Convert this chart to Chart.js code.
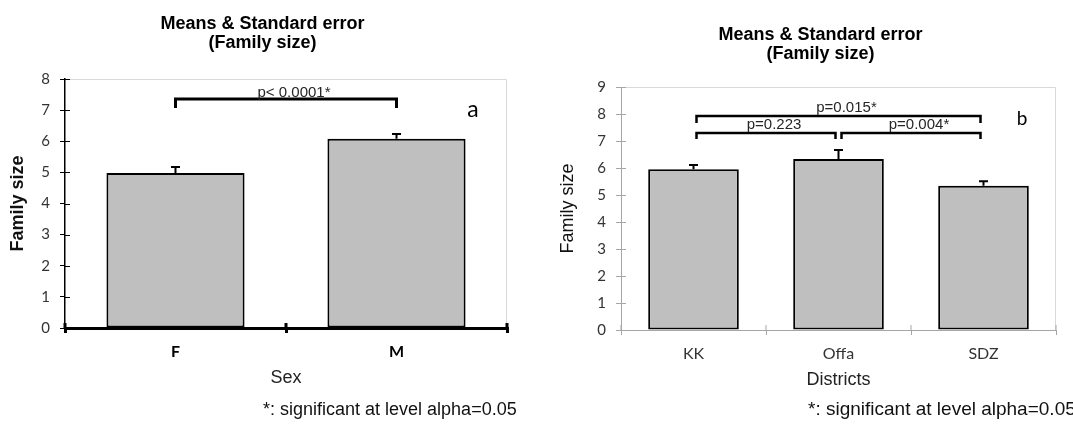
<!DOCTYPE html>
<html>
<head>
<meta charset="utf-8">
<script src="https://cdn.jsdelivr.net/npm/chart.js@4.4.0/dist/chart.umd.min.js"></script>
<style>
  html, body { margin: 0; padding: 0; background: #fff; }
  #wrap { position: relative; width: 1073px; height: 427px; overflow: hidden; }
  .panel { position: absolute; top: 0; height: 427px; }
  #pa { left: 0; width: 530px; }
  #pb { left: 530px; width: 543px; }
</style>
</head>
<body>
<div id="wrap">
  <div class="panel" id="pa"><canvas id="chartA"></canvas></div>
  <div class="panel" id="pb"><canvas id="chartB"></canvas></div>
</div>
<script>
// ── Data ──────────────────────────────────────────────
// panel a: by sex
const sexLabels = ['F', 'M'];
const sexMeans  = [4.98, 6.08];
const sexSE     = [0.19, 0.15];
const sexYMax   = 8;
// [from, to, bracket y, leg end y, label]
const sexBrackets = [[0, 1, 7.36, 7.07, 'p< 0.0001*']];

// panel b: by district
const districtLabels = ['KK', 'Offa', 'SDZ'];
const districtMeans  = [5.95, 6.33, 5.34];
const districtSE     = [0.16, 0.34, 0.17];
const districtYMax   = 9;
const districtBrackets = [
  [0, 2, 7.93, 7.67, 'p=0.015*'],
  [0, 1, 7.30, 7.07, 'p=0.223'],
  [1, 2, 7.30, 7.07, 'p=0.004*']
];

const titleText = ['Means & Standard error', '(Family size)'];
const footText  = '*: significant at level alpha=0.05';

const SANS = '"Liberation Sans", Arial, sans-serif';
const CAL  = 'Lato, "Open Sans", sans-serif';

// ── Extras: plot frame, inner tick halves, error bars, brackets, labels ──
const extras = {
  id: 'extras',
  beforeDatasetsDraw(chart, args, o) {
    const { ctx, chartArea: a } = chart;
    ctx.save();
    ctx.strokeStyle = '#d9d9d9'; ctx.lineWidth = 1;
    ctx.beginPath();
    ctx.moveTo(a.left, a.top + 0.5);
    ctx.lineTo(a.right - 0.5, a.top + 0.5);
    ctx.lineTo(a.right - 0.5, a.bottom);
    ctx.stroke();

    // inner half of tick marks (Excel "cross" ticks)
    const y = chart.scales.y, x = chart.scales.x;
    ctx.strokeStyle = o.tickColor;
    ctx.lineWidth = o.yTickWidth;
    y.ticks.forEach(t => {
      const py = Math.round(y.getPixelForValue(t.value)) + 0.5;
      ctx.beginPath(); ctx.moveTo(a.left, py); ctx.lineTo(a.left + 5, py); ctx.stroke();
    });
    ctx.lineWidth = o.xTickWidth;
    const n = x.ticks.length;
    for (let i = 0; i <= n; i++) {
      const px = a.left + i * (a.right - a.left) / n;
      ctx.beginPath(); ctx.moveTo(px, a.bottom); ctx.lineTo(px, a.bottom - 5); ctx.stroke();
    }
    ctx.restore();
  },
  afterDatasetsDraw(chart, args, o) {
    const { ctx } = chart;
    const y = chart.scales.y;
    const meta = chart.getDatasetMeta(0);
    const means = chart.data.datasets[0].data;
    ctx.save();
    ctx.strokeStyle = '#000';

    // error bars (upper only)
    ctx.lineWidth = 2;
    meta.data.forEach((bar, i) => {
      const y0 = y.getPixelForValue(means[i]);
      const y1 = y.getPixelForValue(means[i] + o.se[i]);
      ctx.beginPath();
      ctx.moveTo(bar.x, y0); ctx.lineTo(bar.x, y1);
      ctx.moveTo(bar.x - o.cap / 2, y1); ctx.lineTo(bar.x + o.cap / 2, y1);
      ctx.stroke();
    });

    // significance brackets
    ctx.lineWidth = o.bracketWidth;
    ctx.lineCap = 'butt';
    ctx.font = '15px ' + SANS;
    ctx.fillStyle = '#262626';
    ctx.textAlign = 'center';
    ctx.textBaseline = 'alphabetic';
    o.brackets.forEach(([from, to, lv, leg, label]) => {
      const x0 = meta.data[from].x + o.inset;
      const x1 = meta.data[to].x - o.inset;
      const py = y.getPixelForValue(lv);
      const pl = y.getPixelForValue(leg);
      ctx.beginPath();
      ctx.moveTo(x0, pl); ctx.lineTo(x0, py); ctx.lineTo(x1, py); ctx.lineTo(x1, pl);
      ctx.stroke();
      ctx.fillText(label, (x0 + x1) / 2 + 8, py - o.textGap);
    });
    ctx.restore();
  },
  afterDraw(chart, args, o) {
    const { ctx } = chart;
    ctx.save();
    ctx.fillStyle = '#000';
    ctx.textBaseline = 'alphabetic';
    ctx.textAlign = 'center';
    ctx.font = o.letter.font;
    ctx.fillText(o.letter.text, o.letter.x, o.letter.y);
    ctx.textAlign = 'left';
    ctx.font = o.foot.size + 'px ' + SANS;
    ctx.fillStyle = '#111';
    ctx.fillText(footText, o.foot.x, o.foot.y);
    ctx.restore();
  }
};

function makeChart(id, cfg) {
  return new Chart(document.getElementById(id), {
    type: 'bar',
    data: {
      labels: cfg.labels,
      datasets: [{
        data: cfg.means,
        backgroundColor: '#bfbfbf',
        borderColor: '#000',
        borderWidth: 2,
        borderSkipped: false,
        barPercentage: 0.625,
        categoryPercentage: 1
      }]
    },
    options: {
      responsive: true,
      maintainAspectRatio: false,
      animation: false,
      events: [],
      layout: { padding: { left: cfg.padLeft, right: cfg.padRight, top: 0, bottom: 0 } },
      plugins: {
        legend: { display: false },
        tooltip: { enabled: false },
        title: {
          display: true,
          text: titleText,
          color: '#000',
          font: { family: SANS, size: 18, weight: 'bold', lineHeight: 19 / 18 },
          padding: { top: cfg.titleTop, bottom: cfg.titleBottom }
        },
        extras: cfg.extras
      },
      scales: {
        x: {
          afterFit: s => { s.height = cfg.xHeight; },
          grid: {
            display: true, offset: true, drawOnChartArea: false, drawTicks: true,
            tickLength: 5, color: cfg.axisColor, lineWidth: cfg.extras.xTickWidth
          },
          border: { display: true, color: cfg.axisColor, width: cfg.xAxisWidth },
          ticks: {
            color: cfg.xTickColor, padding: cfg.xTickPad,
            font: { family: CAL, size: 16, weight: cfg.xTickWeight }
          },
          title: {
            display: true, text: cfg.xTitle, color: '#222',
            font: { family: SANS, size: 18, lineHeight: 1.2 },
            padding: { top: 0, bottom: cfg.xTitlePad }
          }
        },
        y: {
          min: 0, max: cfg.yMax,
          afterFit: s => { s.width = cfg.yWidth; },
          grid: {
            display: true, drawOnChartArea: false, drawTicks: true,
            tickLength: 5, color: cfg.axisColor, lineWidth: 1
          },
          border: { display: true, color: cfg.axisColor, width: cfg.yAxisWidth },
          ticks: {
            stepSize: 1, color: '#333', padding: cfg.yTickPad,
            font: { family: CAL, size: 15 }
          },
          title: {
            display: true, text: 'Family size', color: '#111',
            font: { family: SANS, size: 18, weight: cfg.yTitleWeight, lineHeight: 1.2 },
            padding: { top: cfg.yTitlePad, bottom: 0 }
          }
        }
      }
    },
    plugins: [extras]
  });
}

// panel a
makeChart('chartA', {
  labels: sexLabels, means: sexMeans, yMax: sexYMax,
  padLeft: 18, padRight: 23, yWidth: 47, xHeight: 99,
  titleTop: 14.5, titleBottom: 26.5,
  axisColor: '#000', xAxisWidth: 3, yAxisWidth: 1.5,
  xTickColor: '#000', xTickPad: 9.4, xTickWeight: 'bold',
  yTickPad: 10, xTitle: 'Sex', xTitlePad: 38,
  yTitleWeight: 'bold', yTitlePad: -10.8,
  extras: {
    se: sexSE, brackets: sexBrackets, inset: 0, cap: 9, bracketWidth: 3, textGap: 2,
    tickColor: '#000', yTickWidth: 1, xTickWidth: 3,
    letter: { text: 'a', font: '23px ' + CAL, x: 473, y: 117 },
    foot: { x: 263, y: 415, size: 18 }
  }
});

// panel b
makeChart('chartB', {
  labels: districtLabels, means: districtMeans, yMax: districtYMax,
  padLeft: 55, padRight: 17, yWidth: 36, xHeight: 97,
  titleTop: 25.2, titleBottom: 23.8,
  axisColor: '#a6a6a6', xAxisWidth: 1, yAxisWidth: 1,
  xTickColor: '#333', xTickPad: 9.4, xTickWeight: 'normal',
  yTickPad: 10, xTitle: 'Districts', xTitlePad: 36,
  yTitleWeight: 'normal', yTitlePad: -27.8,
  extras: {
    se: districtSE, brackets: districtBrackets, inset: 3, cap: 9, bracketWidth: 2.5, textGap: 4,
    tickColor: '#a6a6a6', yTickWidth: 1, xTickWidth: 1,
    letter: { text: 'b', font: '19px ' + CAL, x: 492, y: 125 },
    foot: { x: 278, y: 415, size: 19 }
  }
});
</script>
</body>
</html>
